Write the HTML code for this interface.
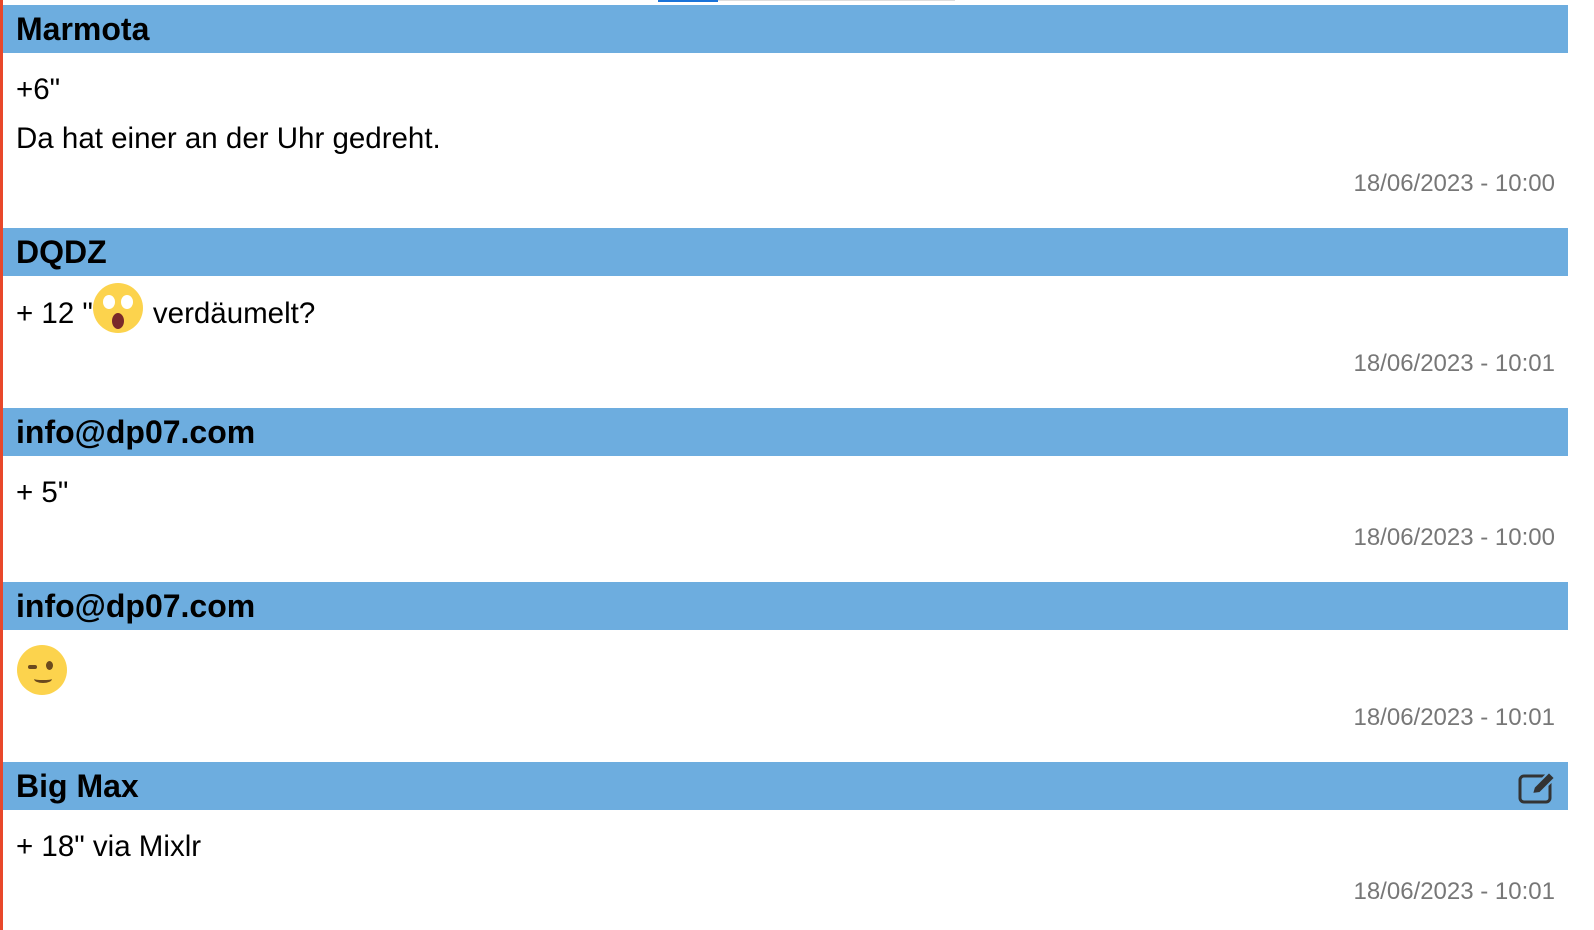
<!DOCTYPE html>
<html><head><meta charset="utf-8"><style>
*{margin:0;padding:0;box-sizing:border-box}
body{width:1594px;height:930px;background:#fff;position:relative;overflow:hidden;font-family:"Liberation Sans",Arial,sans-serif;color:#000}
.red{position:absolute;left:0;top:0;width:3px;height:930px;background:#e8472a}
.h{position:absolute;left:3px;width:1565px;height:48px;background:#6daddf;font-weight:bold;font-size:32px;line-height:48px;padding-left:13px}
.t{position:absolute;left:16px;font-size:29.5px;line-height:32px;white-space:nowrap}
.d{position:absolute;right:39px;font-size:24px;color:#777;line-height:28px}
.emo{display:inline-block;width:50px;height:50px;border-radius:50%;background:#fcd34d;vertical-align:middle;position:relative}
</style></head><body>
<div class="red"></div>
<div style="position:absolute;left:658px;top:0;width:60px;height:2px;background:#1a73d9"></div>
<div style="position:absolute;left:718px;top:0;width:237px;height:1px;background:#ddd"></div>

<div class="h" style="top:5px">Marmota</div>
<div class="t" style="top:74px">+6"</div>
<div class="t" style="top:123px">Da hat einer an der Uhr gedreht.</div>
<div class="d" style="top:170px">18/06/2023 - 10:00</div>

<div class="h" style="top:228px">DQDZ</div>
<div class="t" style="top:297px">+ 12 "<span class="emo" style="margin:-14px 10px 0 0"><span style="position:absolute;left:10px;top:12px;width:12px;height:14px;background:#fff;border-radius:50%"></span><span style="position:absolute;left:28px;top:12px;width:12px;height:14px;background:#fff;border-radius:50%"></span><span style="position:absolute;left:19px;top:30px;width:12px;height:16px;background:#7a2a2a;border-radius:50%"></span></span>verdäumelt?</div>
<div class="d" style="top:350px">18/06/2023 - 10:01</div>

<div class="h" style="top:408px">info@dp07.com</div>
<div class="t" style="top:477px">+ 5"</div>
<div class="d" style="top:524px">18/06/2023 - 10:00</div>

<div class="h" style="top:582px">info@dp07.com</div>
<div style="position:absolute;left:17px;top:645px" class="emo"><span style="position:absolute;left:11px;top:20px;width:9px;height:4px;background:#6b4a1e;border-radius:2px"></span><span style="position:absolute;left:29px;top:16px;width:7px;height:9px;background:#6b4a1e;border-radius:50%"></span><span style="position:absolute;left:17px;top:30px;width:18px;height:8px;border-bottom:3px solid #6b4a1e;border-radius:0 0 50% 50%"></span></div>
<div class="d" style="top:704px">18/06/2023 - 10:01</div>

<div class="h" style="top:762px">Big Max</div>
<svg style="position:absolute;left:1518px;top:770px" width="40" height="34" viewBox="0 0 40 34"><rect x="2" y="6" width="30" height="26" rx="4" fill="none" stroke="#333" stroke-width="3"/><path d="M14 24 L16 17 L31 2 L37 8 L22 23 Z" fill="#333" stroke="#6daddf" stroke-width="2"/></svg>
<div class="t" style="top:831px">+ 18" via Mixlr</div>
<div class="d" style="top:878px">18/06/2023 - 10:01</div>
</body></html>
